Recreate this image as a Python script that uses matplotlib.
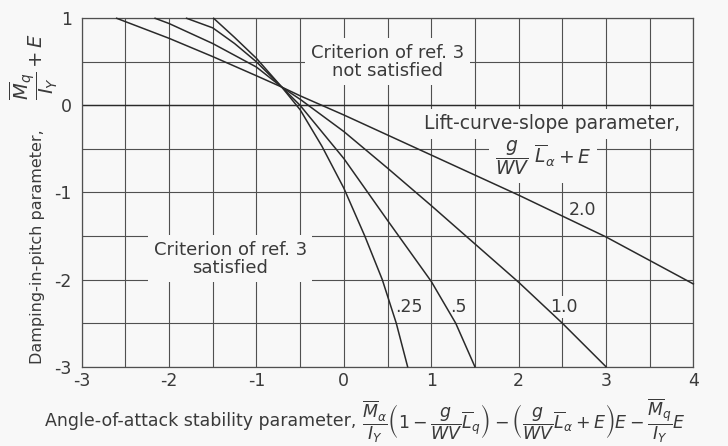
"""
Damping-in-pitch vs angle-of-attack stability parameter (criterion of ref. 3)
"""

import matplotlib
matplotlib.use("Agg")
import matplotlib.pyplot as plt
import numpy as np

# ==================== Data ====================

# lift-curve-slope parameter values, one curve each
curve_labels = [".25", ".5", "1.0", "2.0"]

x_025 = [-1.49, -1.25, -1.0, -0.71, -0.5, -0.25, 0.0, 0.24, 0.44, 0.60, 0.73]
y_025 = [1.0, 0.78, 0.54, 0.21, -0.05, -0.47, -0.95, -1.5, -2.0, -2.5, -3.0]

x_05 = [-1.80, -1.5, -1.25, -1.0, -0.71, -0.5, 0.0, 0.5, 1.0, 1.28, 1.5]
y_05 = [1.0, 0.89, 0.71, 0.50, 0.21, 0.0, -0.61, -1.32, -2.02, -2.5, -3.0]

x_10 = [-2.16, -2.0, -1.5, -1.0, -0.71, -0.5, 0.0, 0.5, 1.0, 1.5, 2.0, 2.5, 3.0]
y_10 = [1.0, 0.94, 0.71, 0.44, 0.21, 0.07, -0.30, -0.72, -1.15, -1.59, -2.03, -2.5, -3.0]

x_20 = [-2.60, -2.0, -1.5, -1.0, -0.71, -0.5, 0.0, 0.5, 1.0, 1.5, 2.0, 2.5, 3.0, 3.5, 4.0]
y_20 = [1.0, 0.77, 0.56, 0.34, 0.21, 0.11, -0.11, -0.34, -0.57, -0.80, -1.03, -1.27, -1.51, -1.78, -2.05]

# where each curve label sits (data coords)
label_x = [0.75, 1.31, 2.52, 2.73]
label_y = [-2.31, -2.31, -2.31, -1.20]

x_ticks = [-3, -2, -1, 0, 1, 2, 3, 4]
y_ticks = [-3, -2, -1, 0, 1]

# ========================================================================================

bg = "#f8f8f8"
ink = "#2a2a2a"
txt = "#3a3a3a"

plt.rcParams["axes.unicode_minus"] = False
plt.rcParams["mathtext.fontset"] = "dejavusans"
plt.rcParams["font.family"] = ["DejaVu Sans"]

fig = plt.figure(figsize=(7.28, 4.46), dpi=100, facecolor=bg)
ax = fig.add_axes([0.1122, 0.1778, 0.8402, 0.7812], facecolor=bg)

ax.set_xlim(-3, 4)
ax.set_ylim(-3, 1)

# grid every 0.5
ax.set_xticks(x_ticks)
ax.set_yticks(y_ticks)
ax.set_xticks(np.arange(-2.5, 4, 1.0), minor=True)
ax.set_yticks(np.arange(-2.5, 1, 1.0), minor=True)
ax.grid(True, which="both", color="#505050", lw=0.8, zorder=0)
ax.set_axisbelow(True)
ax.axhline(0, color=ink, lw=1.0, zorder=1)

ax.tick_params(which="both", length=0, labelsize=12.5, labelcolor=txt)
ax.tick_params(axis="x", pad=4)
ax.tick_params(axis="y", pad=7)
for s in ax.spines.values():
    s.set_color("#505050")
    s.set_linewidth(0.9)

# curves
curves = [(x_025, y_025), (x_05, y_05), (x_10, y_10), (x_20, y_20)]
for xs, ys in curves:
    ax.plot(xs, ys, color=ink, lw=1.1, zorder=4, clip_on=False)

box = dict(facecolor=bg, edgecolor="none", pad=1.5)
for lab, lx, ly in zip(curve_labels, label_x, label_y):
    ax.text(lx, ly, lab, ha="center", va="center", fontsize=12.5, color=txt,
            bbox=box, zorder=3)

# region notes
big_box = dict(facecolor=bg, edgecolor="none", pad=4)
ax.text(0.50, 0.50, "Criterion of ref. 3\nnot satisfied", ha="center", va="center",
        fontsize=13, color=txt, linespacing=1.0, bbox=big_box, zorder=3)
ax.text(-1.30, -1.76, "Criterion of ref. 3\nsatisfied", ha="center", va="center",
        fontsize=13, color=txt, linespacing=1.0, bbox=big_box, zorder=3)
ax.text(2.38, -0.21, "Lift-curve-slope parameter,", ha="center", va="center",
        fontsize=13.5, color=txt, bbox=big_box, zorder=3)
ax.text(2.28, -0.60, r"$\dfrac{g}{WV}\ \overline{L}_\alpha + E$", ha="center",
        va="center", fontsize=13.5, color=txt, bbox=big_box, zorder=3)

# axis titles
fig.text(0.062, 0.057, "Angle-of-attack stability parameter,", ha="left",
         va="center", fontsize=12.5, color=txt)
fig.text(0.497, 0.057,
         r"$\dfrac{\overline{M}_\alpha}{I_Y}\left(1-\dfrac{g}{WV}\overline{L}_q\right)"
         r"-\left(\dfrac{g}{WV}\overline{L}_\alpha+E\right)E-\dfrac{\overline{M}_q}{I_Y}E$",
         ha="left", va="center", fontsize=12.5, color=txt)
fig.text(0.052, 0.447, "Damping-in-pitch parameter,", ha="center", va="center",
         rotation=90, fontsize=11.5, color=txt)
fig.text(0.047, 0.85, r"$\dfrac{\overline{M}_q}{I_Y}+E$", ha="center", va="center",
         rotation=90, fontsize=14, color=txt)

fig.savefig("out.png", dpi=100, facecolor=bg)
